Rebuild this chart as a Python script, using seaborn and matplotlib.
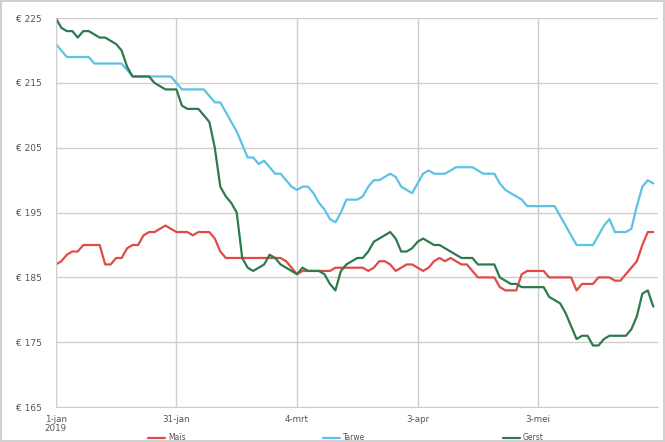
import matplotlib
matplotlib.use("Agg")
import matplotlib.pyplot as plt
import seaborn as sns
import pandas as pd
import numpy as np

# ---- data (weekday series, 1 Jan 2019 onward) ----
mais = [187, 187.5, 188.5, 189, 189, 190, 190, 190, 190, 187,
        187, 188, 188, 189.5, 190, 190, 191.5, 192, 192, 192.5,
        193, 192.5, 192, 192, 192, 191.5, 192, 192, 192, 191,
        189, 188, 188, 188, 188, 188, 188, 188, 188, 188,
        188, 188, 187.5, 186.5, 185.5, 186, 186, 186, 186, 186,
        186, 186.5, 186.5, 186.5, 186.5, 186.5, 186.5, 186, 186.5, 187.5,
        187.5, 187, 186, 186.5, 187, 187, 186.5, 186, 186.5, 187.5,
        188, 187.5, 188, 187.5, 187, 187, 186, 185, 185, 185,
        185, 183.5, 183, 183, 183, 185.5, 186, 186, 186, 186,
        185, 185, 185, 185, 185, 183, 184, 184, 184, 185,
        185, 185, 184.5, 184.5, 185.5, 186.5, 187.5, 190, 192, 192]

tarwe = [221, 220, 219, 219, 219, 219, 219, 218, 218, 218,
         218, 218, 218, 217, 216, 216, 216, 216, 216, 216,
         216, 216, 215, 214, 214, 214, 214, 214, 213, 212,
         212, 210.5, 209, 207.5, 205.5, 203.5, 203.5, 202.5, 203, 202,
         201, 201, 200, 199, 198.5, 199, 199, 198, 196.5, 195.5,
         194, 193.5, 195, 197, 197, 197, 197.5, 199, 200, 200,
         200.5, 201, 200.5, 199, 198.5, 198, 199.5, 201, 201.5, 201,
         201, 201, 201.5, 202, 202, 202, 202, 201.5, 201, 201,
         201, 199.5, 198.5, 198, 197.5, 197, 196, 196, 196, 196,
         196, 196, 194.5, 193, 191.5, 190, 190, 190, 190, 191.5,
         193, 194, 192, 192, 192, 192.5, 196, 199, 200, 199.5]

gerst = [225, 223.5, 223, 223, 222, 223, 223, 222.5, 222, 222,
         221.5, 221, 220, 217.5, 216, 216, 216, 216, 215, 214.5,
         214, 214, 214, 211.5, 211, 211, 211, 210, 209, 205,
         199, 197.5, 196.5, 195, 188, 186.5, 186, 186.5, 187, 188.5,
         188, 187, 186.5, 186, 185.5, 186.5, 186, 186, 186, 185.5,
         184, 183, 186, 187, 187.5, 188, 188, 189, 190.5, 191,
         191.5, 192, 191, 189, 189, 189.5, 190.5, 191, 190.5, 190,
         190, 189.5, 189, 188.5, 188, 188, 188, 187, 187, 187,
         187, 185, 184.5, 184, 184, 183.5, 183.5, 183.5, 183.5, 183.5,
         182, 181.5, 181, 179.5, 177.5, 175.5, 176, 176, 174.5, 174.5,
         175.5, 176, 176, 176, 176, 177, 179, 182.5, 183, 180.5]

series_names = ["Maïs", "Tarwe", "Gerst"]
series_colors = ["#e24a46", "#5cc3e4", "#2e7a4e"]
tick_idx = [0, 22, 44, 66, 88]
tick_labels = ["1-jan\n2019", "31-jan", "4-mrt", "3-apr", "3-mei"]
y_ticks = [165, 175, 185, 195, 205, 215, 225]

n = len(mais)
dates = pd.bdate_range("2019-01-01", periods=n)
frames = []
for name, vals in zip(series_names, [mais, tarwe, gerst]):
    frames.append(pd.DataFrame({"pos": np.arange(n), "datum": dates,
                                "prijs": vals, "graan": name}))
df = pd.concat(frames, ignore_index=True)

sns.set_style("white")
plt.rcParams["font.family"] = ["DejaVu Sans"]

fig = plt.figure(figsize=(6.65, 4.42), dpi=100)
ax = fig.add_axes([0.084, 0.079, 0.905, 0.880])

sns.lineplot(data=df, x="pos", y="prijs", hue="graan", hue_order=series_names,
             palette=series_colors, linewidth=1.6, ax=ax, legend=False)

ax.set_xlim(0, 109.8)
ax.set_ylim(165, 225)
ax.set_yticks(y_ticks)
ax.set_yticklabels([f"€ {v}" for v in y_ticks])
ax.set_xticks(tick_idx)
ax.set_xticklabels(tick_labels, linespacing=1.0)
ax.set_xlabel("")
ax.set_ylabel("")
ax.grid(True, color="#cfcfcf", linewidth=1.0)
ax.set_axisbelow(True)
for s in ["top", "right"]:
    ax.spines[s].set_visible(False)
ax.spines["left"].set_color("#cfcfcf")
ax.spines["bottom"].set_color("#cfcfcf")
ax.tick_params(axis="x", labelsize=6.3, colors="#555555", length=4,
               color="#cfcfcf", pad=1.5)
ax.tick_params(axis="y", labelsize=6.5, colors="#555555", length=4,
               color="#cfcfcf", pad=6)

handles = [plt.Line2D([0], [0], color=c, lw=1.6) for c in series_colors]
fig.legend(handles, series_names, loc="lower center", ncol=3,
           bbox_to_anchor=(0.52, -0.016), frameon=False, fontsize=5.5,
           handlelength=2.2, columnspacing=18, handletextpad=0.4,
           labelcolor="#555555")

fig.patch.set_edgecolor("#d0d0d0")
fig.patch.set_linewidth(1.5)
fig.savefig("out.png", dpi=100, edgecolor=fig.get_edgecolor())
